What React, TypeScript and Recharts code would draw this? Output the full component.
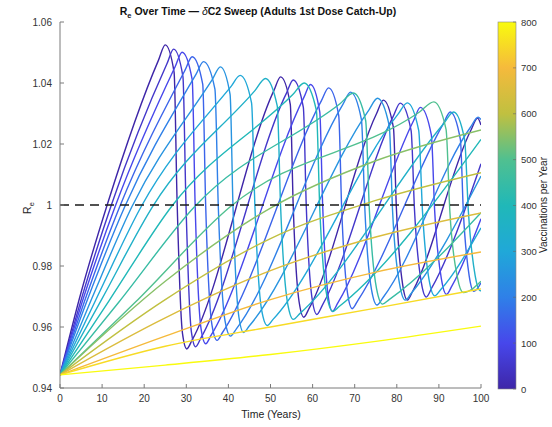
import { LineChart, Line, XAxis, YAxis, ReferenceLine } from "recharts";

type Pt = [number, number];

// vaccination rates in the δC2 sweep (per year)
const RATES = [0, 50, 100, 150, 200, 250, 300, 350, 400, 450, 500, 550, 600, 650, 700, 750, 800];

// Re(t) per rate, [years, Re]
const RE_0: Pt[] = [
  [0, 0.9443], [5, 0.9713], [11.2, 1], [23.4, 1.0475], [25, 1.0525],
  [27.1, 1.0435], [27.8, 1.002], [29.1, 0.9578], [30.1, 0.9528], [31.4, 0.9558],
  [50.8, 1.0375], [52.4, 1.042],
  [54.7, 1.033], [55.4, 0.9995], [56.8, 0.9682], [57.9, 0.9632], [59.2, 0.9662],
  [75.2, 1.03], [76.8, 1.0344],
  [79.2, 1.0254], [79.9, 0.999], [81.4, 0.9738], [82.5, 0.9688], [83.8, 0.9718],
  [97.6, 1.0245], [99.2, 1.0285], [100, 1.0262],
];
const RE_50: Pt[] = [
  [0, 0.9443], [5.4, 0.9707], [12.2, 1], [25.4, 1.0463], [27, 1.0511],
  [29.2, 1.0421], [29.9, 1.0015], [31.2, 0.9585], [32.2, 0.9535], [33.5, 0.9565],
  [53.8, 1.0367], [55.4, 1.041],
  [57.8, 1.032], [58.5, 0.9995], [59.9, 0.9691], [61, 0.9641], [62.3, 0.9671],
  [79.2, 1.0292], [80.8, 1.0334],
  [83.4, 1.0244], [84.2, 0.9985], [85.8, 0.9748], [87, 0.9698], [88.3, 0.9728],
  [100, 1.0135],
];
const RE_100: Pt[] = [
  [0, 0.9443], [5.8, 0.9705], [13.1, 0.9995], [27.4, 1.0455], [29, 1.0501],
  [31.4, 1.0411], [32.1, 1.0], [33.5, 0.9595], [34.6, 0.9545], [35.9, 0.9573],
  [57.9, 1.0352], [59.5, 1.0395],
  [61.7, 1.0305], [62.4, 0.9995], [63.7, 0.9701], [64.7, 0.9651], [66, 0.9679],
  [84, 1.0277], [85.6, 1.032],
  [88.2, 1.023], [89, 0.998], [90.6, 0.9757], [91.8, 0.9707], [93.1, 0.9735],
  [100, 0.9955],
];
const RE_150: Pt[] = [
  [0, 0.9443], [6.3, 0.9703], [14.2, 0.9995], [29.7, 1.0442], [31.4, 1.0486],
  [33.9, 1.0396], [34.6, 1.0], [36.1, 0.9606], [37.3, 0.9556], [38.6, 0.9582],
  [62.1, 1.0342], [63.8, 1.0384],
  [66.2, 1.0294], [66.9, 0.999], [68.3, 0.971], [69.4, 0.966], [70.7, 0.9686],
  [91, 1.0265], [92.7, 1.0305],
  [95.1, 1.0215], [95.8, 0.998], [97.2, 0.9767], [98.3, 0.9717], [100, 0.9745],
];
const RE_200: Pt[] = [
  [0, 0.9443], [6.8, 0.97], [15.4, 0.9995], [32.3, 1.0428], [34.1, 1.047],
  [36.8, 1.038], [37.6, 0.9995], [39.2, 0.962], [40.5, 0.957], [41.9, 0.9594],
  [67.2, 1.033], [69, 1.037],
  [71.6, 1.028], [72.4, 0.999], [74, 0.9722], [75.3, 0.9672], [76.7, 0.9696],
  [97.5, 1.0255], [99.3, 1.0288], [100, 1.028],
];
const RE_250: Pt[] = [
  [0, 0.9443], [7.6, 0.9695], [17.1, 0.9995], [36.2, 1.0412], [38.1, 1.0453],
  [40.4, 1.0363], [41.1, 0.999], [42.5, 0.9632], [43.6, 0.9582], [45, 0.9604],
  [73.4, 1.0312], [75.4, 1.035],
  [78.2, 1.026], [79, 0.998], [80.7, 0.9738], [82, 0.9688], [83.4, 0.971],
  [100, 1.0095],
];
const RE_300: Pt[] = [
  [0, 0.9443], [8.6, 0.9692], [19.3, 0.9995], [40.6, 1.0388], [42.8, 1.0425],
  [45.5, 1.0335], [46.3, 0.9995], [47.9, 0.9655], [49.2, 0.9605], [50.6, 0.9625],
  [80.3, 1.0298], [82.5, 1.0335],
  [85.2, 1.0245], [86.1, 0.998], [87.7, 0.9752], [89, 0.9702], [90.4, 0.9722],
  [100, 0.9925],
];
const RE_350: Pt[] = [
  [0, 0.9443], [9.8, 0.9688], [22, 0.9995], [46.3, 1.0375], [48.8, 1.0415],
  [51.6, 1.0325], [52.4, 0.9995], [54.1, 0.9675], [55.4, 0.9625], [56.9, 0.9643],
  [91.2, 1.0268], [93.5, 1.0305],
  [96.1, 1.0215], [97, 0.998], [98.6, 0.9769], [99.8, 0.9719], [100, 0.972],
];
const RE_400: Pt[] = [
  [0, 0.9443], [11.6, 0.9685], [26.5, 0.9995], [55.3, 1.0362], [58, 1.04],
  [60.9, 1.031], [61.7, 0.999], [63.4, 0.9701], [64.8, 0.9651], [66.3, 0.9667],
  [100, 1.0215],
];
const RE_450: Pt[] = [
  [0, 0.9443], [14, 0.9682], [32, 0.9995], [66.5, 1.0332], [69.7, 1.0367],
  [72.6, 1.0277], [73.5, 0.998], [75.2, 0.9725], [76.6, 0.9675], [78.1, 0.9689],
  [100, 0.9975],
];
const RE_500: Pt[] = [
  [0, 0.9443], [17.8, 0.968], [40.5, 0.9995], [85.4, 1.0305], [88.8, 1.0338],
  [91.7, 1.0248], [92.6, 0.998], [94.4, 0.9763], [95.8, 0.9713], [100, 0.975],
];
const RE_550: Pt[] = [[0, 0.9443], [25, 0.975], [50, 0.999], [75, 1.0145], [100, 1.0246]];
const RE_600: Pt[] = [[0, 0.9443], [25, 0.969], [50, 0.989], [75, 1.0015], [100, 1.0106]];
const RE_650: Pt[] = [[0, 0.9443], [25, 0.963], [50, 0.9785], [75, 0.9895], [100, 0.9974]];
const RE_700: Pt[] = [[0, 0.9443], [25, 0.957], [50, 0.969], [75, 0.978], [100, 0.9846]];
const RE_750: Pt[] = [[0, 0.9443], [25, 0.9537], [50, 0.96], [75, 0.9662], [100, 0.9725]];
const RE_800: Pt[] = [[0, 0.9443], [25, 0.9475], [50, 0.951], [75, 0.9553], [100, 0.9603]];

const SERIES: Pt[][] = [
  RE_0, RE_50, RE_100, RE_150, RE_200, RE_250, RE_300, RE_350, RE_400,
  RE_450, RE_500, RE_550, RE_600, RE_650, RE_700, RE_750, RE_800,
];

const THRESHOLD = 1;
const X_TICKS = [0, 10, 20, 30, 40, 50, 60, 70, 80, 90, 100];
const Y_TICKS = [0.94, 0.96, 0.98, 1, 1.02, 1.04, 1.06];
const CBAR_TICKS = [0, 100, 200, 300, 400, 500, 600, 700, 800];
const CBAR_MAX = 800;

// parula-like colormap stops
const PARULA: [number, string][] = [
  [0, "#3e26a8"],
  [0.125, "#4747eb"],
  [0.25, "#2f80e8"],
  [0.375, "#20a8d8"],
  [0.5, "#20b8b8"],
  [0.625, "#50c090"],
  [0.75, "#c0c040"],
  [0.875, "#f5ba3c"],
  [1, "#f9fb0e"],
];

function hexToRgb(h: string) {
  const n = parseInt(h.slice(1), 16);
  return [(n >> 16) & 255, (n >> 8) & 255, n & 255];
}

function parula(f: number) {
  for (let i = 1; i < PARULA.length; i++) {
    const [f1, c1] = PARULA[i];
    if (f <= f1 + 1e-9) {
      const [f0, c0] = PARULA[i - 1];
      const a = hexToRgb(c0);
      const b = hexToRgb(c1);
      const k = (f - f0) / (f1 - f0);
      const m = a.map((v, j) => Math.round(v + (b[j] - v) * k));
      return `rgb(${m[0]},${m[1]},${m[2]})`;
    }
  }
  return PARULA[PARULA.length - 1][1];
}

const FONT = "'Liberation Sans', Arial, Helvetica, sans-serif";

// plot box
const W = 552;
const H = 427;
const PLOT = { left: 60, top: 22, right: 481, bottom: 388 };
const CBAR = { x: 498, y: 22, w: 18, h: 367 };

function fmtY(v: number) {
  return String(Number(v.toFixed(2)));
}

function Overlay() {
  const cbY = (v: number) => CBAR.y + CBAR.h - (v / CBAR_MAX) * CBAR.h;
  return (
    <svg
      width={W}
      height={H}
      style={{ position: "absolute", left: 0, top: 0, pointerEvents: "none" }}
      fontFamily={FONT}
    >
      <defs>
        <linearGradient id="parula" x1="0" y1="1" x2="0" y2="0">
          {PARULA.map(([f, c]) => (
            <stop key={f} offset={f} stopColor={c} />
          ))}
        </linearGradient>
      </defs>

      <text x={258} y={15} textAnchor="middle" fontSize={10.5} fontWeight="bold" fill="#111">
        R<tspan dy={3} fontSize={7.5}>e</tspan>
        <tspan dy={-3}> Over Time — </tspan>
        <tspan fontStyle="italic" fontWeight="normal">δ</tspan>
        <tspan>C2 Sweep (Adults 1st Dose Catch-Up)</tspan>
      </text>

      <text transform="translate(31,208) rotate(-90)" textAnchor="middle" fontSize={10.5} fill="#222">
        R<tspan dy={3} fontSize={7.5}>e</tspan>
      </text>

      <text x={271} y={418} textAnchor="middle" fontSize={10.5} fill="#222">
        Time (Years)
      </text>

      <rect x={CBAR.x} y={CBAR.y} width={CBAR.w} height={CBAR.h} fill="url(#parula)" stroke="#888" strokeWidth={0.6} />
      {CBAR_TICKS.map((t) => (
        <g key={t}>
          <line x1={CBAR.x + CBAR.w - 3} x2={CBAR.x + CBAR.w} y1={cbY(t)} y2={cbY(t)} stroke="#666" strokeWidth={0.6} />
          <text x={CBAR.x + CBAR.w + 5} y={cbY(t) + 3.5} fontSize={9.5} fill="#333">
            {t}
          </text>
        </g>
      ))}
      <text transform="translate(547,205) rotate(-90)" textAnchor="middle" fontSize={10} fill="#222">
        Vaccinations per Year
      </text>
    </svg>
  );
}

export default function App() {
  return (
    <div style={{ position: "absolute", left: 0, top: 0, width: W, height: H, background: "#fff" }}>
      <LineChart
        width={W}
        height={H}
        margin={{ top: PLOT.top, right: W - PLOT.right, left: 0, bottom: H - PLOT.bottom - 30 }}
      >
        <XAxis
          type="number"
          dataKey="t"
          domain={[0, 100]}
          ticks={X_TICKS}
          height={30}
          allowDataOverflow
          stroke="#7a7a7a"
          tickSize={-4}
          tickMargin={11}
          tick={{ fontSize: 10, fill: "#333", fontFamily: FONT }}
        />
        <YAxis
          type="number"
          dataKey="v"
          domain={[0.94, 1.06]}
          ticks={Y_TICKS}
          width={PLOT.left}
          allowDataOverflow
          stroke="#7a7a7a"
          tickSize={-4}
          tickMargin={12}
          tickFormatter={fmtY}
          tick={{ fontSize: 10, fill: "#333", fontFamily: FONT }}
        />
        {SERIES.map((pts, i) => (
          <Line
            key={RATES[i]}
            data={pts.map(([t, v]) => ({ t, v }))}
            dataKey="v"
            type="monotone"
            dot={false}
            activeDot={false}
            stroke={parula(RATES[i] / CBAR_MAX)}
            strokeWidth={1.4}
            isAnimationActive={false}
          />
        ))}
        <ReferenceLine y={THRESHOLD} stroke="#1a1a1a" strokeWidth={1.3} strokeDasharray="9 6" />
      </LineChart>
      <Overlay />
    </div>
  );
}
